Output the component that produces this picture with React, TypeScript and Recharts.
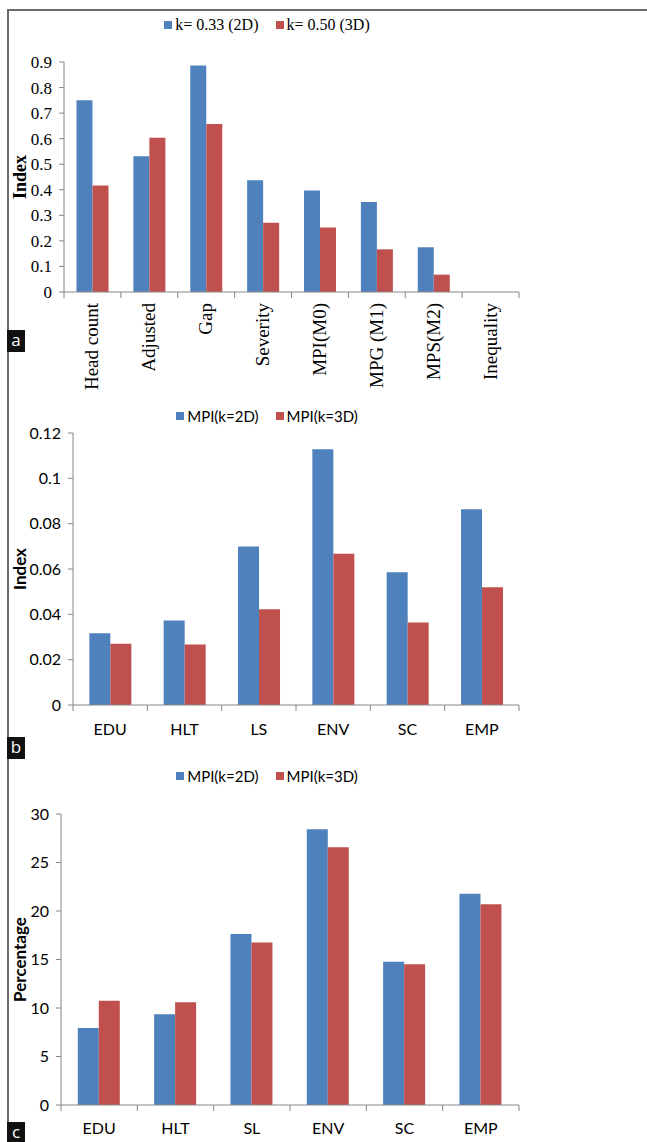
import { BarChart, Bar, XAxis, YAxis, Legend } from "recharts";

// panel a
const catsA = ["Head count", "Adjusted", "Gap", "Severity", "MPI(M0)", "MPG (M1)", "MPS(M2)", "Inequality"];
const k2A = [0.75, 0.531, 0.886, 0.437, 0.397, 0.352, 0.175, 0];
const k3A = [0.417, 0.604, 0.657, 0.271, 0.252, 0.167, 0.068, 0];
const ticksA = [0, 0.1, 0.2, 0.3, 0.4, 0.5, 0.6, 0.7, 0.8, 0.9];

// panel b
const catsB = ["EDU", "HLT", "LS", "ENV", "SC", "EMP"];
const mpi2B = [0.0316, 0.0373, 0.0699, 0.1128, 0.0586, 0.0864];
const mpi3B = [0.027, 0.0267, 0.0422, 0.0667, 0.0364, 0.0519];
const ticksB = [0, 0.02, 0.04, 0.06, 0.08, 0.1, 0.12];

// panel c
const catsC = ["EDU", "HLT", "SL", "ENV", "SC", "EMP"];
const mpi2C = [7.94, 9.35, 17.63, 28.42, 14.78, 21.79];
const mpi3C = [10.76, 10.58, 16.74, 26.56, 14.5, 20.69];
const ticksC = [0, 5, 10, 15, 20, 25, 30];

const SERIF = '"Liberation Serif", "Times New Roman", serif';
const SANS = 'Lato, "Open Sans", sans-serif';
const BLUE = "#4F81BD";
const RED = "#C0504D";
const AXIS = "#868686";
const W = 647;
const PLOT_RIGHT = 519;

type PanelProps = {
  top: number;
  height: number;
  mTop: number;
  yW: number;
  xH: number;
  cats: string[];
  s1: number[];
  s2: number[];
  names: [string, string];
  ticks: number[];
  font: string;
  tickFs: number;
  legFs: number;
  xFs: number;
  labFs: number;
  yLabel: string;
  rotate?: boolean;
  legTop: number;
  labelDy?: number;
};

function Panel(p: PanelProps) {
  const data = p.cats.map((c, i) => ({ cat: c, a: p.s1[i], b: p.s2[i] }));
  const bw = (PLOT_RIGHT - p.yW) / p.cats.length;
  const plotBottom = p.height - p.xH;

  // category labels + tick marks on the category boundaries (Excel style)
  const renderXTick = (t: any) => {
    const x = t.x;
    const last = t.index === p.cats.length - 1;
    const ax = x + 6;
    const ay = plotBottom + 11;
    return (
      <g>
        <line x1={x - bw / 2} x2={x - bw / 2} y1={plotBottom} y2={plotBottom + 6} stroke={AXIS} />
        {last && <line x1={x + bw / 2} x2={x + bw / 2} y1={plotBottom} y2={plotBottom + 6} stroke={AXIS} />}
        {p.rotate ? (
          <text x={ax} y={ay} transform={`rotate(-90 ${ax} ${ay})`} textAnchor="end"
            style={{ fontFamily: p.font, fontSize: p.xFs }} fill="#000">
            {t.payload.value}
          </text>
        ) : (
          <text x={x} y={plotBottom + (p.labelDy ?? 24)} dy="0.35em" textAnchor="middle"
            style={{ fontFamily: p.font, fontSize: p.xFs }} fill="#000">
            {t.payload.value}
          </text>
        )}
      </g>
    );
  };

  const renderYTick = (t: any) => (
    <text x={t.x} y={t.y} dy="0.35em" textAnchor="end" fill="#000"
      style={{ fontFamily: p.font, fontSize: p.tickFs }}>
      {t.payload.value}
    </text>
  );

  return (
    <div style={{ position: "absolute", left: 0, top: p.top }}>
      <BarChart width={W} height={p.height} data={data} style={{ fontFamily: p.font }}
        margin={{ top: p.mTop, right: W - PLOT_RIGHT, bottom: 0, left: 0 }}
        barCategoryGap="22%" barGap={0}>
        <XAxis dataKey="cat" height={p.xH} stroke={AXIS} tickLine={false} tick={renderXTick} interval={0} />
        <YAxis width={p.yW} domain={[0, p.ticks[p.ticks.length - 1]]} ticks={p.ticks} interval={0}
          stroke={AXIS} tickSize={5} tickMargin={7} tick={renderYTick}
          label={{
            value: p.yLabel, angle: -90, position: "center", dx: 20 - p.yW / 2,
            style: { fontFamily: p.font, fontSize: p.labFs, fontWeight: "bold" }, fill: "#000",
          }} />
        <Legend verticalAlign="middle" align="center"
          wrapperStyle={{ top: p.legTop, left: 0, width: 534 }}
          content={() => (
            <div style={{ display: "flex", justifyContent: "center", alignItems: "center",
              fontFamily: p.font, fontSize: p.legFs, color: "#000", lineHeight: "20px" }}>
              <span style={{ display: "inline-block", width: 8, height: 8, background: BLUE, marginRight: 3 }} />
              <span>{p.names[0]}</span>
              <span style={{ display: "inline-block", width: 8, height: 8, background: RED, marginLeft: 17, marginRight: 3 }} />
              <span>{p.names[1]}</span>
            </div>
          )} />
        <Bar dataKey="a" name={p.names[0]} fill={BLUE} isAnimationActive={false} />
        <Bar dataKey="b" name={p.names[1]} fill={RED} isAnimationActive={false} />
      </BarChart>
    </div>
  );
}

const tag = (letter: string, top: number) => (
  <div style={{
    position: "absolute", left: 7, top, width: 18, height: 22, background: "#111", color: "#fff",
    fontFamily: '"Open Sans", sans-serif', fontSize: 17, lineHeight: "20px", textAlign: "center",
  }}>{letter}</div>
);

export default function App() {
  return (
    <div style={{ position: "absolute", left: 0, top: 0, width: W, height: 1142, background: "#fff", overflow: "hidden" }}>
      <div style={{ position: "absolute", left: 7, top: 9, width: 640, height: 1133,
        borderLeft: "2px solid #6b6b6b", borderTop: "2px solid #6b6b6b" }} />
      <Panel top={0} height={395} mTop={62} yW={64} xH={103} cats={catsA} s1={k2A} s2={k3A}
        names={["k= 0.33 (2D)", "k= 0.50 (3D)"]} ticks={ticksA} font={SERIF}
        tickFs={17} legFs={16} xFs={19} labFs={18}
        yLabel="Index" rotate legTop={15} />
      <Panel top={380} height={365} mTop={53} yW={73} xH={40} cats={catsB} s1={mpi2B} s2={mpi3B}
        names={["MPI(k=2D)", "MPI(k=3D)"]} ticks={ticksB} font={SANS}
        tickFs={16} legFs={15} xFs={16} labFs={17}
        yLabel="Index" legTop={26} labelDy={24} />
      <Panel top={750} height={392} mTop={64} yW={61} xH={37} cats={catsC} s1={mpi2C} s2={mpi3C}
        names={["MPI(k=2D)", "MPI(k=3D)"]} ticks={ticksC} font={SANS}
        tickFs={16} legFs={15} xFs={16} labFs={17}
        yLabel="Percentage" legTop={16} labelDy={23} />
      {tag("a", 330)}
      {tag("b", 737)}
      {tag("c", 1122)}
    </div>
  );
}
